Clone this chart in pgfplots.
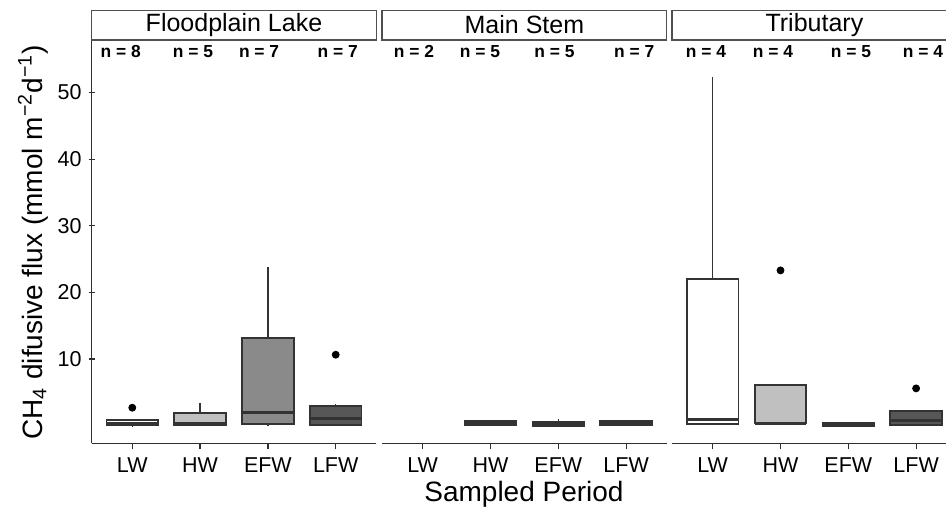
\documentclass[border=0pt]{standalone}
\usepackage{fontspec}
\setmainfont{Liberation Sans}
\usepackage{pgfplots}
\pgfplotsset{compat=1.18}
\usepgfplotslibrary{statistics}

\definecolor{boxline}{HTML}{333333}
\definecolor{axisgray}{HTML}{303030}
\definecolor{stripline}{HTML}{505050}
\definecolor{fillLW}{HTML}{FFFFFF}
\definecolor{fillHW}{HTML}{C0C0C0}
\definecolor{fillEFW}{HTML}{8A8A8A}
\definecolor{fillLFW}{HTML}{575757}

\pgfplotsset{
  panel/.style={
    scale only axis, width=142.4pt, height=201.65pt,
    xmin=0.4, xmax=4.6, ymin=-2.64, ymax=57.87,
    xtick={1,2,3,4}, xticklabels={LW,HW,EFW,LFW},
    axis x line=bottom,
    tick align=outside, major tick length=3pt,
    tick style={line width=0.6pt, color=axisgray},
    ticklabel style={font=\fontsize{10.75}{12.5}\selectfont},
    xticklabel style={yshift=-0.5pt},
    /pgf/number format/assume math mode=true,
    clip=false,
    boxplot/draw direction=y,
    boxplot/whisker extend=0, boxplot/box extend=0.76,
    boxplot/every box/.style={draw=boxline, line width=0.9pt},
    boxplot/every median/.style={draw=boxline, line width=1.5pt},
    boxplot/every whisker/.style={draw=boxline, line width=0.6pt},
  },
  lines/.style={axis line style={-, line width=0.75pt, color=axisgray},
    x axis line style={-}, y axis line style={-}},
  bx/.style={mark=*, mark size=1.75pt, mark options={draw=black, fill=black}},
}
\tikzset{
  nlab/.style={font=\bfseries\fontsize{8.7}{10}\selectfont},
  strip/.style={draw=stripline, line width=0.6pt, fill=white},
  striptext/.style={font=\fontsize{12.5}{15}\selectfont},
}

\begin{document}
\begin{tikzpicture}
% Floodplain Lake
\begin{axis}[panel, at={(45.8pt,-221.65pt)}, anchor=south west,
  axis y line=left, ytick={10,20,30,40,50}, lines]
\addplot[bx, fill=fillLW, boxplot prepared={draw position=1, lower whisker=0, lower quartile=0.02, median=0.4, upper quartile=0.85, upper whisker=0.9}] coordinates {(0,2.7)};
\addplot[bx, fill=fillHW, boxplot prepared={draw position=2, lower whisker=0, lower quartile=0.1, median=0.36, upper quartile=1.95, upper whisker=3.45}] coordinates {};
\addplot[bx, fill=fillEFW, boxplot prepared={draw position=3, lower whisker=0, lower quartile=0.2, median=2.05, upper quartile=13.15, upper whisker=23.8}] coordinates {};
\addplot[bx, fill=fillLFW, boxplot prepared={draw position=4, lower whisker=0, lower quartile=0.15, median=1.1, upper quartile=3.0, upper whisker=3.2}] coordinates {(0,10.65)};
\draw[strip] (rel axis cs:0,1) rectangle ([yshift=14.65pt]rel axis cs:1,1);
\node[striptext] at ([yshift=7.6pt]rel axis cs:0.5,1) {Floodplain Lake};
\node[nlab] at (axis cs:0.83,56.1) {n = 8};
\node[nlab] at (axis cs:1.895,56.1) {n = 5};
\node[nlab] at (axis cs:2.87,56.1) {n = 7};
\node[nlab] at (axis cs:4.03,56.1) {n = 7};
\end{axis}
% Main Stem
\begin{axis}[panel, at={(191pt,-221.65pt)}, anchor=south west, axis y line=none, lines]
\addplot[bx, fill=fillHW, boxplot prepared={draw position=2, lower whisker=0.05, lower quartile=0.1, median=0.4, upper quartile=0.65, upper whisker=0.9}] coordinates {};
\addplot[bx, fill=fillEFW, boxplot prepared={draw position=3, lower whisker=-0.1, lower quartile=-0.1, median=0.3, upper quartile=0.55, upper whisker=0.95}] coordinates {};
\addplot[bx, fill=fillLFW, boxplot prepared={draw position=4, lower whisker=0.1, lower quartile=0.1, median=0.45, upper quartile=0.75, upper whisker=0.8}] coordinates {};
\draw[strip] (rel axis cs:0,1) rectangle ([yshift=14.65pt]rel axis cs:1,1);
\node[striptext] at ([yshift=7.6pt]rel axis cs:0.5,1) {Main Stem};
\node[nlab] at (axis cs:0.87,56.1) {n = 2};
\node[nlab] at (axis cs:1.845,56.1) {n = 5};
\node[nlab] at (axis cs:2.944,56.1) {n = 5};
\node[nlab] at (axis cs:4.12,56.1) {n = 7};
\end{axis}
% Tributary
\begin{axis}[panel, at={(336pt,-221.65pt)}, anchor=south west, axis y line=none, lines]
\addplot[bx, fill=fillLW, boxplot prepared={draw position=1, lower whisker=0.2, lower quartile=0.25, median=0.95, upper quartile=21.97, upper whisker=52.3}] coordinates {};
\addplot[bx, fill=fillHW, boxplot prepared={draw position=2, lower whisker=0.3, lower quartile=0.35, median=0.4, upper quartile=6.1, upper whisker=6.1}] coordinates {(0,23.3)};
\addplot[bx, fill=fillEFW, boxplot prepared={draw position=3, lower whisker=0, lower quartile=0, median=0.15, upper quartile=0.35, upper whisker=0.35}] coordinates {};
\addplot[bx, fill=fillLFW, boxplot prepared={draw position=4, lower whisker=0.1, lower quartile=0.15, median=0.75, upper quartile=2.25, upper whisker=2.25}] coordinates {(0,5.6)};
\draw[strip] (rel axis cs:0,1) rectangle ([yshift=14.65pt]rel axis cs:1,1);
\node[striptext] at ([yshift=7.6pt]rel axis cs:0.5,1) {Tributary};
\node[nlab] at (axis cs:0.90,56.1) {n = 4};
\node[nlab] at (axis cs:1.89,56.1) {n = 4};
\node[nlab] at (axis cs:3.04,56.1) {n = 5};
\node[nlab] at (axis cs:4.10,56.1) {n = 4};
\end{axis}
\node[rotate=90, anchor=base, font=\fontsize{14}{17}\selectfont] at (21pt,-121.25pt)
  {CH\textsubscript{4} difusive flux (mmol m\textsuperscript{−2}d\textsuperscript{−1})};
\node[anchor=base, font=\fontsize{14}{17}\selectfont] at (262pt,-250.85pt) {Sampled Period};
\pgfresetboundingbox
\path[use as bounding box] (0,0) rectangle (473pt,-254pt);
\end{tikzpicture}
\end{document}
